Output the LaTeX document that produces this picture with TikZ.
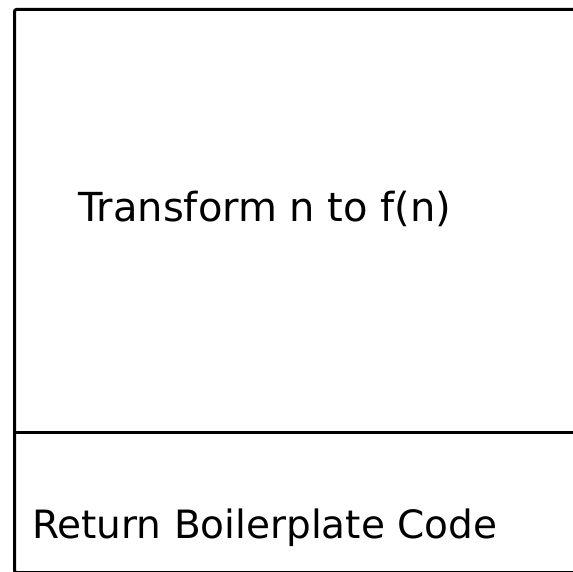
\documentclass[tikz,border=0pt]{standalone}
\usepackage{fontspec}
\setmainfont{DejaVu Sans}
\begin{document}
\begin{tikzpicture}[x=1pt,y=-1pt,
  frame/.style={draw=black,line width=3pt,rounded corners=2pt},
  divider/.style={draw=black,line width=3pt},
  label/.style={anchor=base west,inner sep=0pt}]
\useasboundingbox (0,0) rectangle (573,572);
\begin{scope}
\clip (0,0) rectangle (573,572);
\draw[frame] (14.5,9.5) rectangle (580,572.5);
\draw[divider] (14.5,432.5) -- (580,432.5);
\end{scope}
\node[label,font=\fontsize{40}{48}\selectfont] (transform) at (78,222) {Transform n to f(n)};
\node[label,font=\fontsize{39}{47}\selectfont] (return) at (32,538) {Return Boilerplate Code};
\end{tikzpicture}
\end{document}
